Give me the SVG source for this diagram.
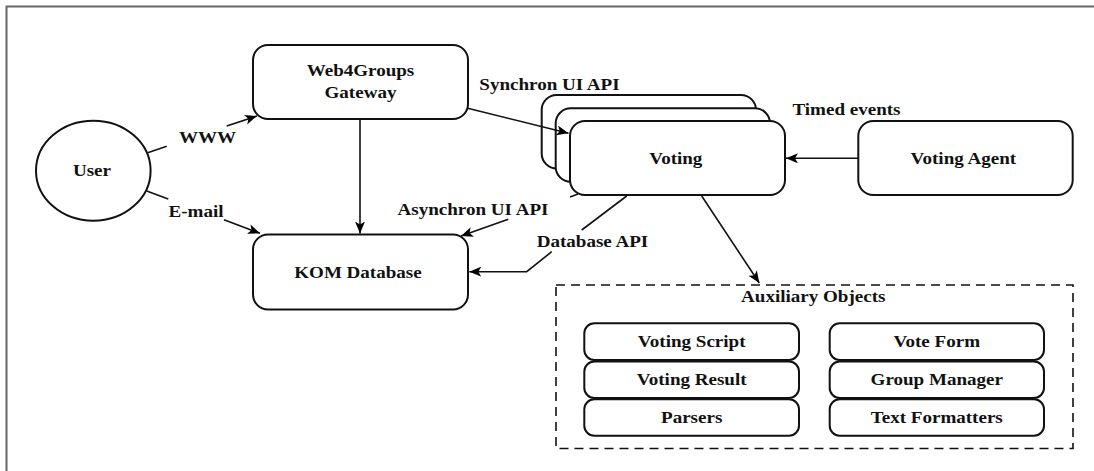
<svg xmlns="http://www.w3.org/2000/svg" width="1094" height="471" viewBox="0 0 1094 471">
<defs>
<marker id="ah" markerWidth="14" markerHeight="12" refX="12" refY="5" orient="auto" markerUnits="userSpaceOnUse">
<path d="M0,0 L12,5 L0,10 L3,5 z" fill="#000"/>
</marker>
<style>
.t{font-family:"Liberation Serif","Times New Roman",serif;font-weight:bold;font-size:16px;fill:#111;text-anchor:middle;transform-box:fill-box;transform-origin:center;transform:scaleX(1.19)}
.box{fill:#fff;stroke:#111;stroke-width:2}
.sub{fill:#fff;stroke:#111;stroke-width:2}
.c{fill:none;stroke:#111;stroke-width:1.6}
.ca{fill:none;stroke:#111;stroke-width:1.6;marker-end:url(#ah)}
</style>
</defs>
<rect width="1094" height="471" fill="#fff"/>
<path d="M6.5,471 V6.5 H1094" fill="none" stroke="#666" stroke-width="2"/>

<g id="user">
<ellipse class="box" cx="93.3" cy="170.7" rx="57.3" ry="50" stroke-width="1.6"/>
<text class="t" x="92" y="176">User</text>
</g>

<g id="gateway">
<rect class="box" x="253" y="45" width="215" height="74" rx="15"/>
<text class="t" x="360.5" y="76">Web4Groups</text>
<text class="t" x="360.5" y="97.7">Gateway</text>
</g>

<g id="kom">
<rect class="box" x="253" y="234.5" width="215" height="75" rx="15"/>
<text class="t" x="358" y="277.7">KOM Database</text>
</g>

<g id="voting">
<rect class="box" x="541.7" y="95" width="214.3" height="73.5" rx="15"/>
<rect class="box" x="555.7" y="108.3" width="214.3" height="73.5" rx="15"/>
<rect class="box" x="570" y="121" width="215" height="74" rx="15"/>
<text class="t" x="675.8" y="164">Voting</text>
</g>

<g id="agent">
<rect class="box" x="858.3" y="121" width="214.4" height="74" rx="15"/>
<text class="t" x="963.3" y="164.3">Voting Agent</text>
</g>

<g id="aux">
<rect x="556" y="285" width="517" height="163.5" fill="none" stroke="#111" stroke-width="1.6" stroke-dasharray="9,6"/>
<text class="t" x="813.3" y="302.3">Auxiliary Objects</text>
</g>

<g id="voting-script">
<rect class="sub" x="584.3" y="323.3" width="214.7" height="36.7" rx="10"/>
<text class="t" x="691.7" y="347.3">Voting Script</text>
</g>
<g id="voting-result">
<rect class="sub" x="584.3" y="361.5" width="214.7" height="36.4" rx="10"/>
<text class="t" x="691.7" y="385">Voting Result</text>
</g>
<g id="parsers">
<rect class="sub" x="584.3" y="399.3" width="214.7" height="36.4" rx="10"/>
<text class="t" x="691.7" y="422.7">Parsers</text>
</g>
<g id="vote-form">
<rect class="sub" x="829.7" y="323.3" width="214.3" height="36.7" rx="10"/>
<text class="t" x="936.8" y="347.3">Vote Form</text>
</g>
<g id="group-manager">
<rect class="sub" x="829.7" y="361.5" width="214.3" height="36.4" rx="10"/>
<text class="t" x="936.8" y="385">Group Manager</text>
</g>
<g id="text-formatters">
<rect class="sub" x="829.7" y="399.3" width="214.3" height="36.4" rx="10"/>
<text class="t" x="936.8" y="422.7">Text Formatters</text>
</g>

<g id="connectors">
<line class="c" x1="147.7" y1="152.7" x2="166.7" y2="146.3"/>
<line class="ca" x1="226.7" y1="126.1" x2="257" y2="116"/>
<line class="c" x1="146.7" y1="191" x2="168.3" y2="199"/>
<line class="ca" x1="224" y1="219.8" x2="260" y2="233.3"/>
<line class="ca" x1="360" y1="119" x2="360" y2="233.5"/>
<line class="ca" x1="467.7" y1="108.3" x2="568.5" y2="133.3"/>
<line class="c" x1="570" y1="196.9" x2="578" y2="194"/>
<line class="ca" x1="508.3" y1="219.3" x2="461" y2="236"/>
<line class="c" x1="626.7" y1="196" x2="581.7" y2="230"/>
<polyline class="ca" points="551.7,251.7 526.7,271.7 469.3,271.7"/>
<line class="ca" x1="858.3" y1="158.3" x2="786" y2="158.3"/>
<line class="ca" x1="701.7" y1="196" x2="759.3" y2="283"/>
<text class="t" x="207.5" y="143">WWW</text>
<text class="t" x="196" y="216.7">E-mail</text>
<text class="t" x="549.5" y="90">Synchron UI API</text>
<text class="t" x="473" y="215">Asynchron UI API</text>
<text class="t" x="592.5" y="247.3">Database API</text>
<text class="t" x="846.5" y="115">Timed events</text>
</g>
</svg>
